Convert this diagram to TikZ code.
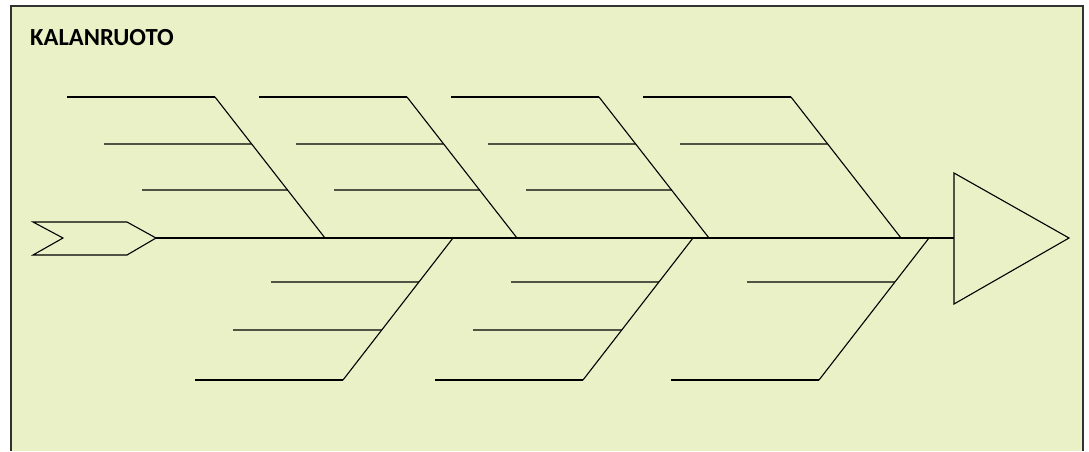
\documentclass[tikz,border=0pt]{standalone}
\usepackage{fontspec}
\setsansfont{Carlito}
\usetikzlibrary{calc}
\definecolor{panel}{RGB}{234,241,198}
\definecolor{frameline}{RGB}{50,50,50}

\begin{document}
\begin{tikzpicture}[
  x=1pt, y=-1pt,
  bone/.style={draw=black, line width=1.1pt},
  rib/.style={draw=black, line width=1.1pt},
  outline/.style={draw=black, line width=1.1pt, line join=miter},
  heading/.style={font=\sffamily\bfseries\fontsize{24.6}{28}\selectfont, anchor=base west, inner sep=0pt},
]
  \useasboundingbox (0,0) rectangle (1089,451);
  \fill[panel] (11,6) rectangle (1083,451);
  \draw[frameline, line width=2pt] (11,451) -- (11,6) -- (1083,6) -- (1083,451);

  \node[heading] (title) at (30,45) {KALANRUOTO};

  % tail
  \coordinate (tailtip) at (156,238);
  \draw[outline] (33,222) -- (63,238) -- (33,255) -- (127,255) -- (tailtip) -- (127,222) -- cycle;
  % head
  \coordinate (headbase) at (954,238);
  \draw[outline] (954,173) -- (1069,238) -- (954,304) -- cycle;
  % spine
  \draw[bone] (tailtip) -- (headbase);

  % upper bones
  \foreach \n/\t in {a/215, b/407, c/599, d/791} {
    \coordinate (up\n) at (\t,97);
    \coordinate (dn\n) at (\t+110,238);
    \draw[bone] (up\n) -- (dn\n);
    \draw[rib] (\t-148,97) -- (up\n);
    \draw[rib] (\t-111,144) -- ($(up\n)!47/141!(dn\n)$);
  }
  \foreach \n/\t in {a/215, b/407, c/599}
    \draw[rib] (\t-73,190) -- ($(up\n)!93/141!(dn\n)$);

  % lower bones
  \foreach \n/\s in {e/453, f/693, g/929} {
    \coordinate (top\n) at (\s,238);
    \coordinate (bot\n) at (\s-110,380);
    \draw[bone] (top\n) -- (bot\n);
    \draw[rib] (\s-182,282) -- ($(top\n)!44/142!(bot\n)$);
    \draw[rib] (\s-258,380) -- (bot\n);
  }
  \foreach \n/\s in {e/453, f/693}
    \draw[rib] (\s-220,330) -- ($(top\n)!92/142!(bot\n)$);
\end{tikzpicture}
\end{document}
